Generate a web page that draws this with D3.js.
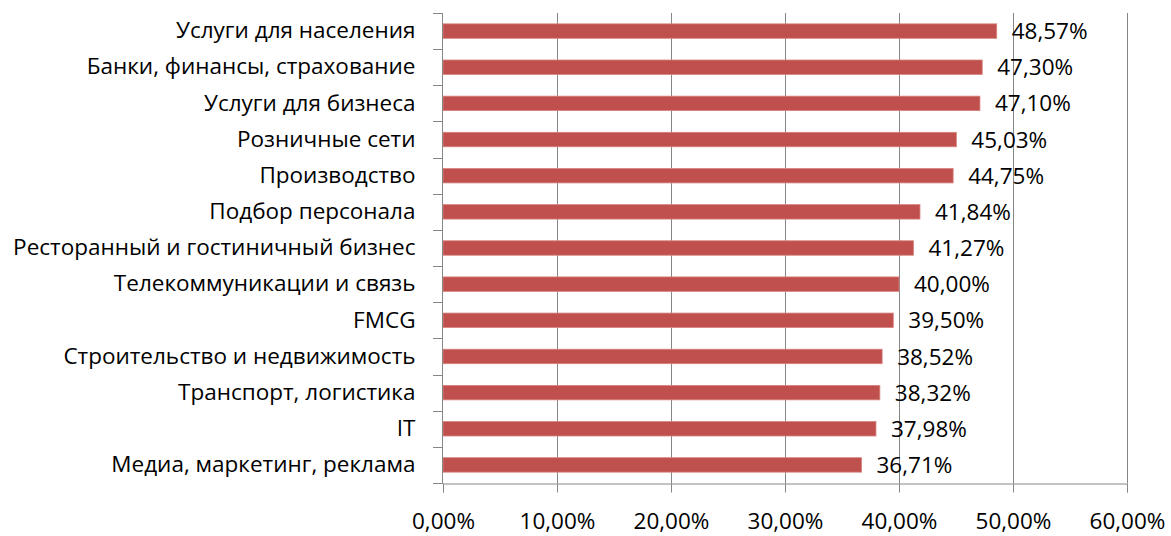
<!DOCTYPE html>
<html><head><meta charset="utf-8">
<script src="https://cdn.jsdelivr.net/npm/d3@7"></script>
<style>body{margin:0;background:#fff}svg{display:block}text{font-family:"Open Sans",Arial,sans-serif;fill:#000}</style>
</head><body>
<script>
const categories = ["Услуги для населения","Банки, финансы, страхование","Услуги для бизнеса","Розничные сети","Производство","Подбор персонала","Ресторанный и гостиничный бизнес","Телекоммуникации и связь","FMCG","Строительство и недвижимость","Транспорт, логистика","IT","Медиа, маркетинг, реклама"];
const values = [48.57,47.30,47.10,45.03,44.75,41.84,41.27,40.00,39.50,38.52,38.32,37.98,36.71];
const tickValues = [0,10,20,30,40,50,60];

const W=1171,H=536;
const FONT="Open Sans, Arial, sans-serif", FS=22.5;
const m={left:443,right:44,top:13,bottom:53};
const svg=d3.select("body").append("svg").attr("width",W).attr("height",H);
const x=d3.scaleLinear().domain([0,60]).range([m.left,W-m.right]);
const y=d3.scaleBand().domain(categories).range([m.top,H-m.bottom]).paddingInner(0.6).paddingOuter(0.3);
const fmt=v=>v.toFixed(2).replace(".",",")+"%";
const gridColor="#868686";
// gridlines
svg.append("g").selectAll("line").data(tickValues.slice(1)).join("line")
  .attr("x1",d=>Math.round(x(d))+0.5).attr("x2",d=>Math.round(x(d))+0.5)
  .attr("y1",m.top).attr("y2",H-m.bottom).attr("stroke",gridColor);
// bars
svg.append("g").selectAll("rect").data(values).join("rect")
  .attr("x",x(0)).attr("y",(d,i)=>y(categories[i]))
  .attr("width",d=>x(d)-x(0)).attr("height",y.bandwidth())
  .attr("fill","#C0504D").attr("stroke","#D7837F").attr("stroke-width",0.8);
// x axis
const xa=svg.append("g").attr("transform",`translate(0,${Math.round(H-m.bottom)+0.5})`)
  .call(d3.axisBottom(x).tickValues(tickValues).tickSize(9).tickPadding(21).tickFormat(d=>fmt(d)));
xa.select(".domain").attr("stroke",gridColor);
xa.selectAll(".tick line").attr("stroke",gridColor);
xa.selectAll("text").attr("font-size",FS).attr("font-family",FONT).attr("fill","#000");
// y axis
const ya=svg.append("g").attr("transform",`translate(${Math.round(m.left)-0.5},0)`)
  .call(d3.axisLeft(y).tickSize(0).tickPadding(27));
ya.select(".domain").attr("stroke",gridColor).attr("d",`M0,${m.top}V${H-m.bottom}`);
ya.selectAll("text").attr("font-size",FS).attr("font-family",FONT).attr("fill","#000");
// y ticks between categories
const step=(H-m.bottom-m.top)/categories.length;
svg.append("g").selectAll("line").data(d3.range(categories.length+1)).join("line")
  .attr("x1",m.left-10).attr("x2",m.left)
  .attr("y1",i=>Math.round(m.top+i*step)+0.5).attr("y2",i=>Math.round(m.top+i*step)+0.5)
  .attr("stroke",gridColor);
// value labels
svg.append("g").selectAll("text").data(values).join("text")
  .attr("x",d=>x(d)+15).attr("y",(d,i)=>y(categories[i])+y.bandwidth()/2)
  .attr("dy","0.36em").attr("font-size",FS).text(d=>fmt(d));
</script>
</body></html>
